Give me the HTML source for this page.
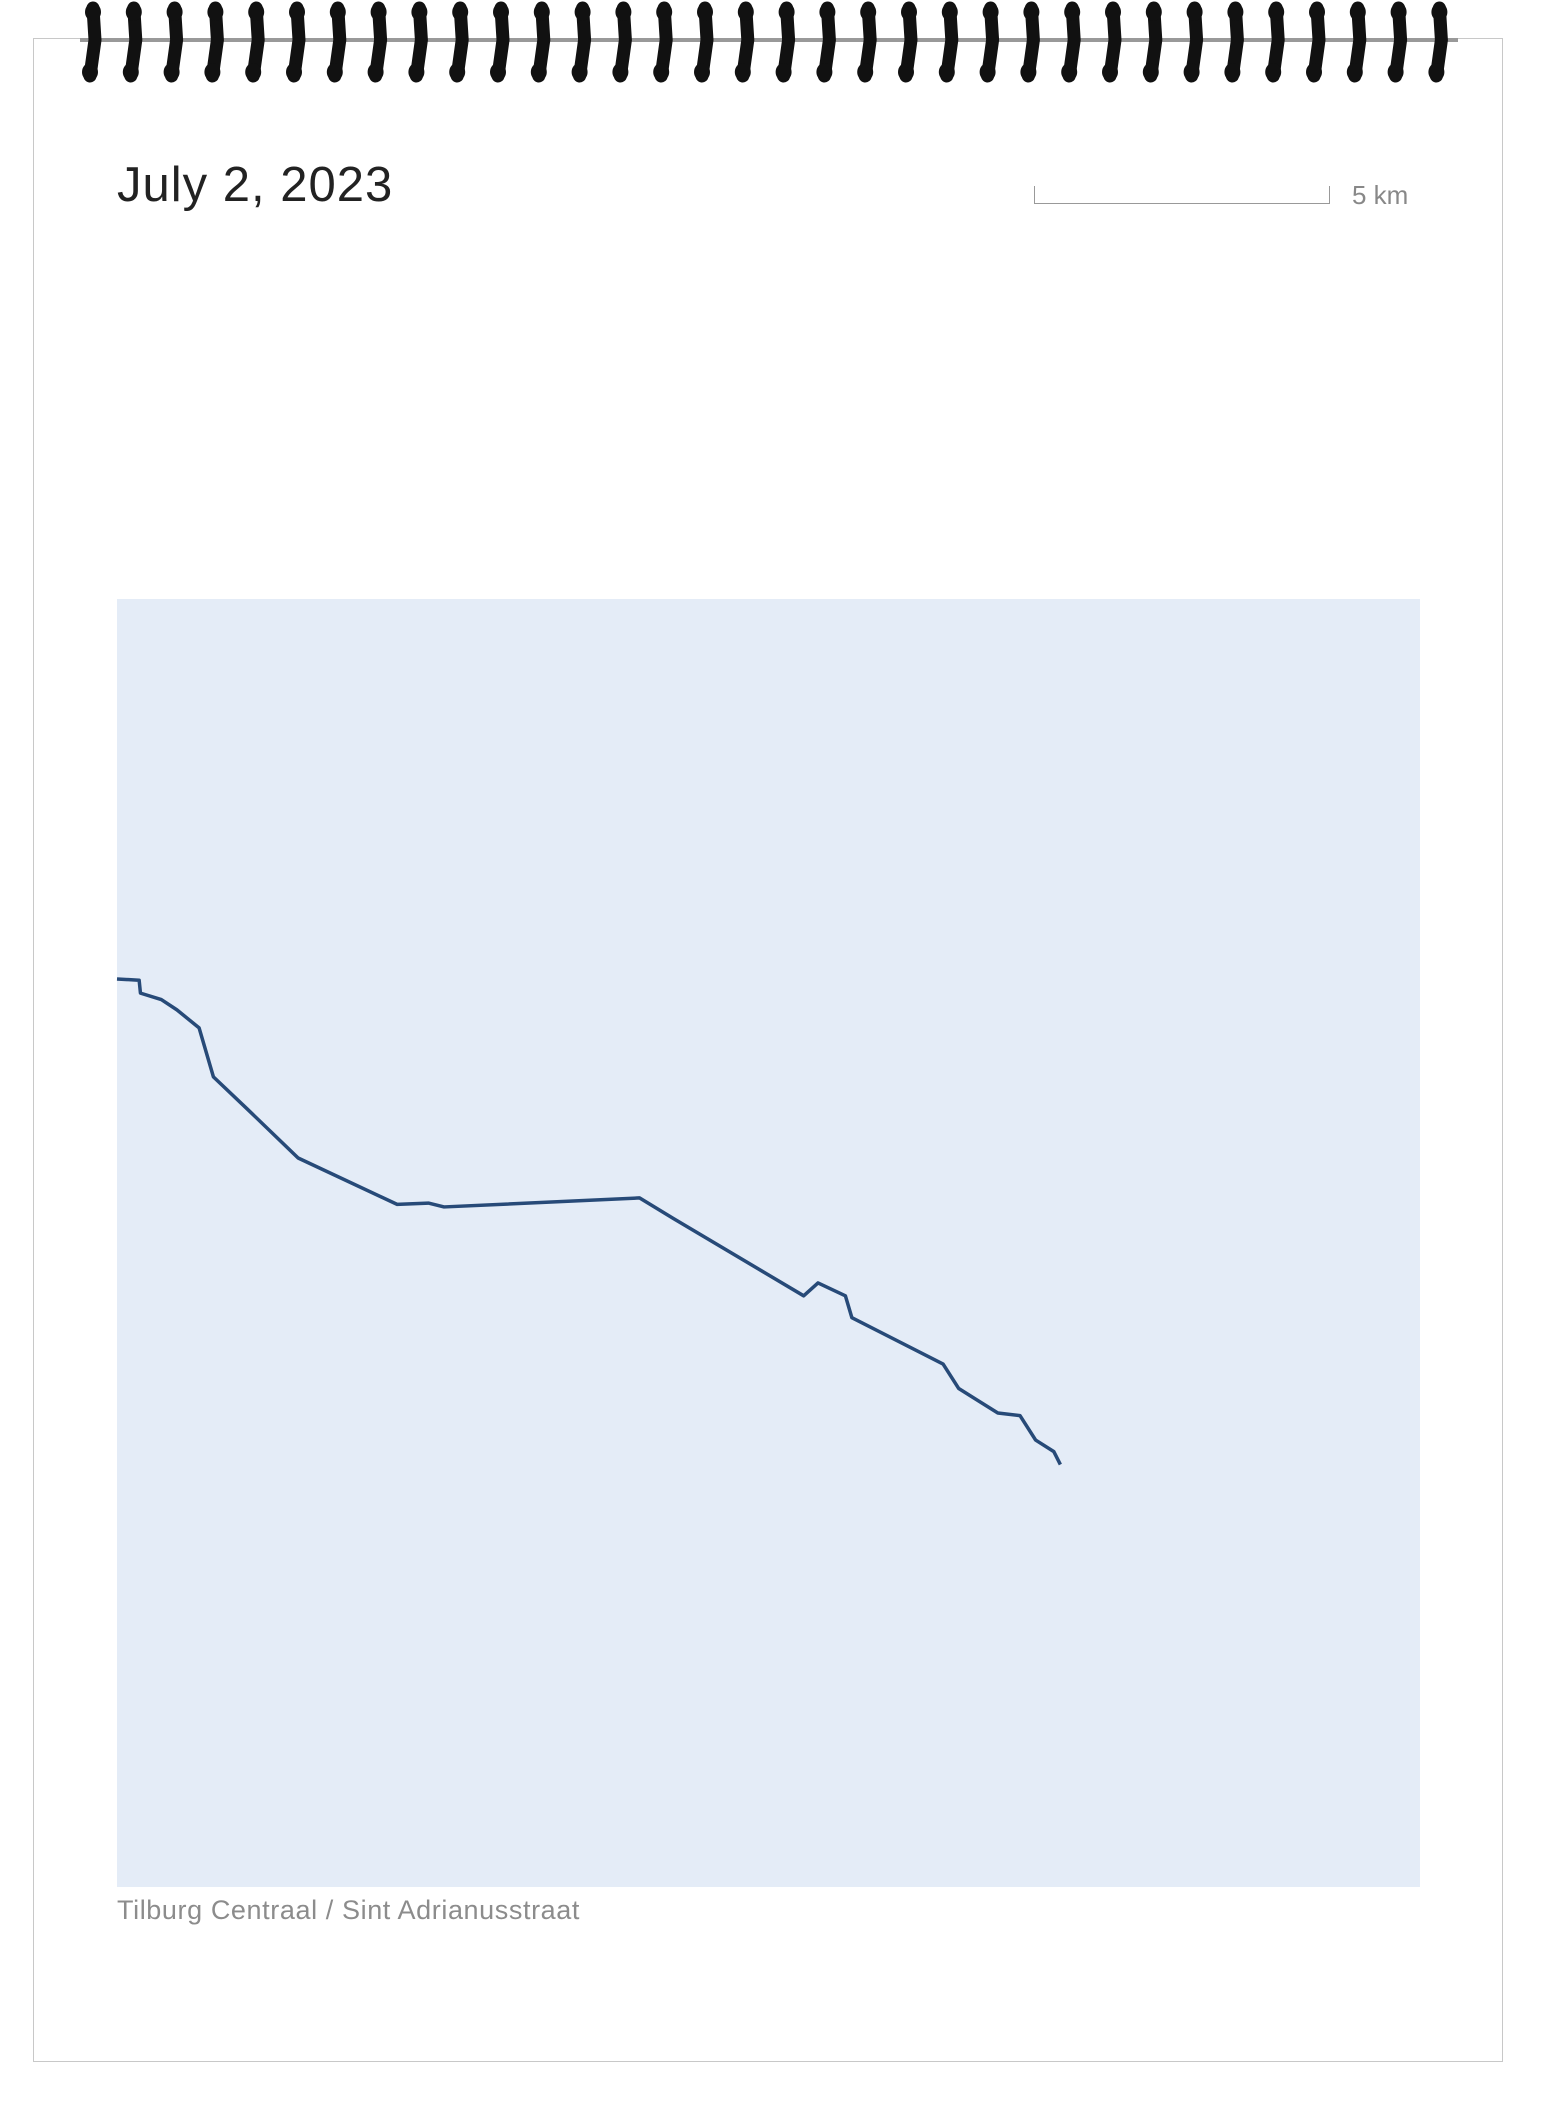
<!DOCTYPE html>
<html><head><meta charset="utf-8"><style>
html,body{margin:0;padding:0;background:#fff;width:1541px;height:2118px;overflow:hidden;font-family:"Liberation Sans",sans-serif;}
#page{position:absolute;left:33px;top:38px;width:1470px;height:2024px;border:1.5px solid #c8c8c8;box-sizing:border-box;}
#title{position:absolute;left:117px;top:157px;font-size:49px;color:#222;letter-spacing:1px;}
#scalebar{position:absolute;left:1034px;top:186px;width:296px;height:18px;border:1.5px solid #999;border-top:none;box-sizing:border-box;}
#scaletext{position:absolute;left:1352px;top:180px;font-size:26px;color:#888;}
#caption{position:absolute;left:117px;top:1895px;font-size:27px;color:#8c8c8c;letter-spacing:0.6px;}
svg{position:absolute;left:0;top:0;}
</style></head><body>
<div id="page"></div>
<svg id="spiral" width="1541" height="100"></svg>
<div id="title">July 2, 2023</div>
<div id="scalebar"></div>
<div id="scaletext">5 km</div>
<svg id="map" width="1541" height="2118" style="pointer-events:none"></svg>
<div id="caption">Tilburg Centraal / Sint Adrianusstraat</div>
<script>
// route data in panel units (0..1000 across, 0..1000 down)
const routeX=[0,17,18,34,46,63,74,100,139,215,239,251,401,427,527,538,559,564,634,646,676,693,705,719,724];
const routeY=[295,296,306,311,319,333,371,396,434,470,469,472,465,481,541,531,541,558,594,613,632,634,653,662,672];
const ns="http://www.w3.org/2000/svg";
const px0=117,px1=1420,py0=599,py1=1887;
const sx=v=>px0+v/1000*(px1-px0), sy=v=>py0+v/1000*(py1-py0);
const map=document.getElementById('map');
const bg=document.createElementNS(ns,'rect');
bg.setAttribute('x',px0);bg.setAttribute('y',py0);bg.setAttribute('width',px1-px0);bg.setAttribute('height',py1-py0);bg.setAttribute('fill','#e4ecf7');


map.appendChild(bg);
const pl=document.createElementNS(ns,'polyline');
pl.setAttribute('points',routeX.map((x,i)=>sx(x)+','+sy(routeY[i])).join(' '));
pl.setAttribute('fill','none');pl.setAttribute('stroke','#274a78');pl.setAttribute('stroke-width','3.5');pl.setAttribute('stroke-linejoin','round');


map.appendChild(pl);
// spiral
const sp=document.getElementById('spiral');
const ln=document.createElementNS(ns,'rect');
ln.setAttribute('x',80);ln.setAttribute('y',38);ln.setAttribute('width',1378);ln.setAttribute('height',4);ln.setAttribute('fill','#999');


sp.appendChild(ln);
for(let i=0;i<34;i++){
  const cx=92+i*40.8;
  const g=document.createElementNS(ns,'g');
  
  
  g.innerHTML=`<path d="M${cx+1} 8 L${cx+3} 40 L${cx-2} 76" stroke="#111" stroke-width="13" stroke-linecap="round" fill="none"/><ellipse cx="${cx+1}" cy="12" rx="8" ry="9" fill="#111"/><ellipse cx="${cx-2}" cy="72" rx="8" ry="9" fill="#111"/>`;
  sp.appendChild(g);
}
</script>
</body></html>
